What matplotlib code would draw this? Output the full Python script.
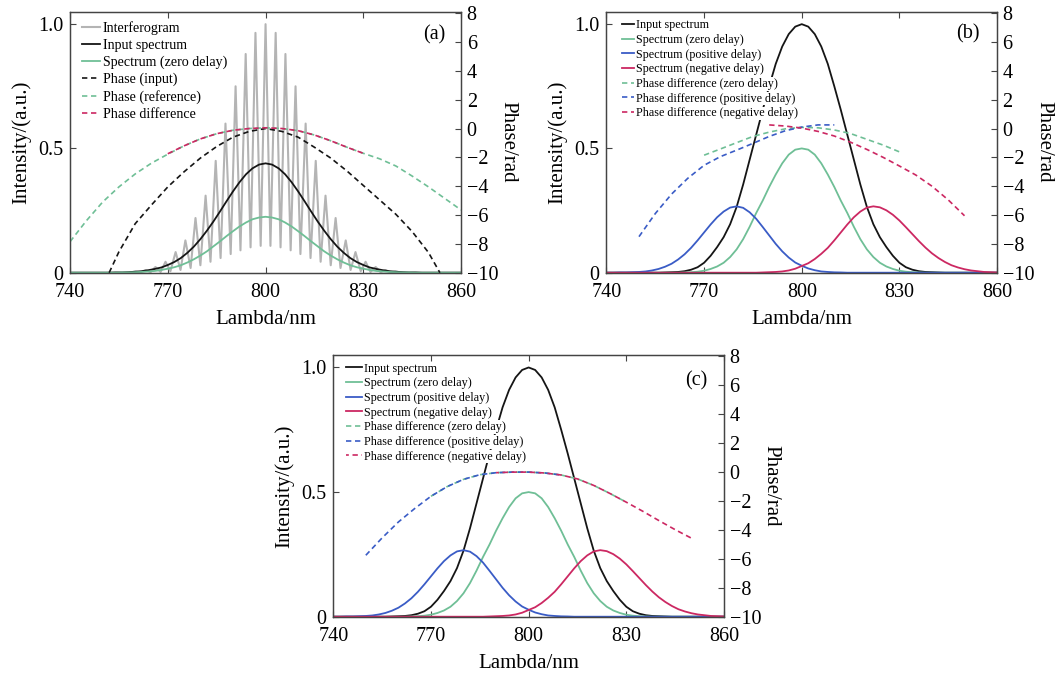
import numpy as np
import matplotlib
matplotlib.use('Agg')
import matplotlib.pyplot as plt

plt.rcParams['font.family'] = ['Liberation Serif', 'DejaVu Serif']

# ---------------- data ----------------
# common wavelength grid (nm) for the spectra
wl = np.arange(740, 861, 2)

# (a) input spectrum and zero-delay spectrum
spec_in_a = [0, 0, 0, 0, 0, 0, 0, 0.001, 0.001, 0.002, 0.004, 0.006, 0.010, 0.015, 0.021,
             0.031, 0.043, 0.059, 0.080, 0.105, 0.135, 0.169, 0.206, 0.246, 0.287, 0.327,
             0.364, 0.396, 0.42, 0.435, 0.44,
             0.435, 0.42, 0.396, 0.364, 0.327, 0.287, 0.246, 0.206, 0.169, 0.135, 0.105,
             0.080, 0.059, 0.043, 0.031, 0.021, 0.015, 0.010, 0.006, 0.004, 0.002, 0.001,
             0.001, 0, 0, 0, 0, 0, 0, 0]
spec_zero_a = [0, 0, 0, 0, 0, 0, 0, 0, 0.001, 0.001, 0.002, 0.003, 0.005, 0.007, 0.011,
               0.016, 0.022, 0.030, 0.041, 0.054, 0.069, 0.086, 0.106, 0.126, 0.147, 0.167,
               0.186, 0.202, 0.215, 0.222, 0.225,
               0.222, 0.215, 0.202, 0.186, 0.167, 0.147, 0.126, 0.106, 0.086, 0.069, 0.054,
               0.041, 0.030, 0.022, 0.016, 0.011, 0.007, 0.005, 0.003, 0.002, 0.001, 0.001,
               0, 0, 0, 0, 0, 0, 0, 0]

# (a) interferogram fringes: maxima and minima
fringe_max_wl = [760.1, 763.2, 766.2, 769.3, 772.4, 775.4, 778.5, 781.6, 784.7, 787.7, 790.8,
                 793.9, 796.9, 800.0, 803.1, 806.1, 809.2, 812.3, 815.4, 818.4, 821.5, 824.6,
                 827.6, 830.7, 833.8, 836.8, 839.9]
fringe_max = [0.005, 0.011, 0.023, 0.044, 0.083, 0.13, 0.22, 0.31, 0.45, 0.60, 0.75, 0.88,
              0.965, 1.0, 0.965, 0.88, 0.75, 0.60, 0.45, 0.31, 0.22, 0.13, 0.083, 0.044,
              0.023, 0.011, 0.005]
fringe_min_wl = [740, 758.0, 761.6, 764.7, 767.8, 770.8, 773.9, 777.0, 780.0, 783.1, 786.2,
                 789.3, 792.3, 795.4, 798.5, 801.5, 804.6, 807.7, 810.7, 813.8, 816.9, 820.0,
                 823.0, 826.1, 829.2, 832.2, 835.3, 838.4, 842.0, 860]
fringe_min = [0, 0, 0.001, 0.002, 0.003, 0.006, 0.011, 0.019, 0.030, 0.044, 0.059, 0.075,
              0.090, 0.102, 0.108, 0.108, 0.102, 0.090, 0.075, 0.059, 0.044, 0.030, 0.019,
              0.011, 0.006, 0.003, 0.002, 0.001, 0, 0]

# (a) phases (rad)
ph_in_wl = [752, 755, 760, 765, 770, 775, 780, 785, 790, 795, 800, 805, 810, 815, 820, 825,
            830, 835, 840, 845, 850, 853.5]
ph_in = [-10, -8.55, -6.6, -5.3, -4.05, -3.0, -2.05, -1.25, -0.6, -0.2, 0.0, -0.2, -0.6,
         -1.3, -2.05, -2.95, -3.95, -4.95, -5.95, -7.15, -8.6, -10]
ph_ref_wl = list(range(740, 861, 5))
ph_ref = [-7.85, -6.4, -5.1, -4.05, -3.15, -2.4, -1.78, -1.2, -0.72, -0.36, -0.12, 0.0, 0.05,
          0.0, -0.15, -0.45, -0.85, -1.3, -1.72, -2.1, -2.6, -3.3, -4.05, -4.85, -5.65]
ph_diff_wl = list(range(770, 831, 5))
ph_diff = [-1.75, -1.2, -0.72, -0.36, -0.12, 0.0, 0.05, 0.0, -0.15, -0.45, -0.85, -1.3, -1.72]

# (b), (c) spectra
spec_in = [0, 0, 0, 0, 0, 0, 0, 0, 0, 0.001, 0.002, 0.003, 0.006, 0.012, 0.022, 0.04, 0.068,
           0.103, 0.143, 0.195, 0.265, 0.355, 0.455, 0.555, 0.655, 0.75, 0.84, 0.91, 0.96,
           0.99, 1.0,
           0.99, 0.96, 0.91, 0.84, 0.75, 0.655, 0.555, 0.455, 0.355, 0.265, 0.195, 0.143,
           0.103, 0.068, 0.04, 0.022, 0.012, 0.006, 0.003, 0.002, 0.001, 0, 0, 0, 0, 0, 0,
           0, 0, 0]
spec_zero = [0, 0, 0, 0, 0, 0, 0, 0, 0, 0, 0, 0, 0.001, 0.002, 0.004, 0.008, 0.015, 0.025,
             0.04, 0.063, 0.094, 0.135, 0.185, 0.24, 0.29, 0.345, 0.395, 0.44, 0.475, 0.495,
             0.5,
             0.495, 0.475, 0.44, 0.395, 0.345, 0.29, 0.24, 0.185, 0.135, 0.094, 0.063, 0.04,
             0.025, 0.015, 0.008, 0.004, 0.002, 0.001, 0, 0, 0, 0, 0, 0, 0, 0, 0, 0, 0, 0]
spec_pos = [0, 0, 0.001, 0.001, 0.002, 0.003, 0.005, 0.009, 0.015, 0.024, 0.036, 0.053,
            0.074, 0.100, 0.130, 0.162, 0.194, 0.223, 0.246, 0.262, 0.267, 0.261, 0.243,
            0.217, 0.184, 0.150, 0.116, 0.086, 0.061, 0.041, 0.028, 0.017, 0.010, 0.005,
            0.003, 0.0015, 0.001, 0, 0, 0, 0, 0, 0, 0, 0, 0, 0, 0, 0, 0, 0, 0, 0, 0, 0, 0,
            0, 0, 0, 0, 0]
spec_neg = [0, 0, 0, 0, 0, 0, 0, 0, 0, 0, 0, 0, 0, 0, 0, 0, 0, 0, 0, 0, 0, 0, 0, 0,
            0.001, 0.002, 0.003, 0.005, 0.009, 0.016, 0.027, 0.038, 0.055, 0.076, 0.100,
            0.130, 0.162, 0.194, 0.223, 0.246, 0.262, 0.267, 0.263, 0.251, 0.233, 0.210,
            0.183, 0.155, 0.127, 0.101, 0.078, 0.059, 0.043, 0.030, 0.021, 0.014, 0.009,
            0.006, 0.003, 0.002, 0.001]

# (b) phase differences (uncorrected)
ph_pos_b_wl = list(range(750, 811, 5))
ph_pos_b = [-7.5, -5.9, -4.55, -3.45, -2.55, -1.95, -1.5, -1.03, -0.55, -0.15, 0.1, 0.25, 0.25]
ph_zero_b_wl = list(range(770, 831, 5))
ph_zero_b = [-1.85, -1.42, -0.98, -0.55, -0.25, -0.02, 0.08, 0.05, -0.1, -0.35, -0.75, -1.15, -1.62]
ph_neg_b_wl = list(range(790, 851, 5))
ph_neg_b = [0.25, 0.17, 0.03, -0.2, -0.52, -0.95, -1.45, -2.0, -2.6, -3.22, -4.0, -4.95, -6.05]

# (c) phase differences (corrected, on one curve)
ph_c_wl = np.arange(750, 851, 5)
ph_c = np.array([-5.75, -4.55, -3.45, -2.52, -1.67, -1.0, -0.5, -0.18, -0.04, 0.0, 0.0, -0.06,
                 -0.2, -0.47, -0.92, -1.48, -2.08, -2.7, -3.35, -3.98, -4.57])

c_black = '#151515'
c_gray = '#b4b4b4'
c_green = '#6fbf96'
c_blue = '#3a5cc6'
c_red = '#cc2862'
dash = (3.2, 2.2)


def setup(ax, ax2, tag, tag_xy):
    ax.set_xlim(740, 860)
    ax.set_ylim(0, 1.05)
    ax2.set_ylim(-10, 8.1)
    ax.set_xticks([740, 770, 800, 830, 860])
    ax.set_yticks([0, 0.5, 1.0])
    ax.set_yticklabels(['0', '0.5', '1.0'])
    ax2.set_yticks(range(-10, 9, 2))
    ax.tick_params(axis='x', direction='in', top=True, length=4, labelsize=14.5, pad=7.5,
                   color='#444444')
    ax.tick_params(axis='y', direction='in', length=4, labelsize=14.5, pad=5, color='#444444')
    ax2.tick_params(axis='y', direction='in', length=4, labelsize=14.5, pad=4, color='#444444')
    for a in (ax, ax2):
        for s in a.spines.values():
            s.set_color('#444444')
            s.set_linewidth(0.9)
    ax.set_xlabel('Lambda/nm', fontsize=15, labelpad=6)
    ax.set_ylabel('Intensity/(a.u.)', fontsize=15, labelpad=5)
    ax2.set_ylabel('Phase/rad', fontsize=15, rotation=270, va='bottom', labelpad=0)
    ax.text(tag_xy[0], tag_xy[1], tag, transform=ax.transAxes, ha='right', va='center',
            fontsize=14.5)


def add_legend(ax, ax2, anchor, fs, hl, spacing, hide_lines):
    h1, l1 = ax.get_legend_handles_labels()
    h2, l2 = ax2.get_legend_handles_labels()
    leg = ax2.legend(h1 + h2, l1 + l2, loc='upper left', bbox_to_anchor=anchor,
                     borderaxespad=0, borderpad=0, frameon=False, fontsize=fs,
                     handlelength=hl, handletextpad=0.2, labelspacing=spacing)
    if hide_lines:
        for t in leg.get_texts():
            t.set_bbox(dict(facecolor='white', edgecolor='none', pad=0.5))


fig = plt.figure(figsize=(10.58, 6.74), dpi=100)

# ---- (a) ----
ax = fig.add_axes([0.0662, 0.5954, 0.3696, 0.3872])
ax2 = ax.twinx()
fr_wl = np.array(fringe_max_wl + fringe_min_wl)
fr_val = np.array(fringe_max + fringe_min)
order = np.argsort(fr_wl)
ax.plot(fr_wl[order], fr_val[order], color=c_gray, lw=1.5, label='Interferogram')
ax.plot(wl, spec_in_a, color=c_black, lw=1.3, label='Input spectrum')
ax.plot(wl, spec_zero_a, color=c_green, lw=1.3, label='Spectrum (zero delay)')
ax2.plot(ph_in_wl, ph_in, color=c_black, lw=1.2, ls=(0, dash), label='Phase (input)')
ax2.plot(ph_ref_wl, ph_ref, color=c_green, lw=1.2, ls=(0, dash), label='Phase (reference)')
ax2.plot(ph_diff_wl, ph_diff, color=c_red, lw=1.2, ls=(0, dash), label='Phase difference')
setup(ax, ax2, '(a)', (0.96, 0.91))
add_legend(ax, ax2, (0.03, 0.963), 10.1, 1.3, 0.27, False)

# ---- (b) ----
ax = fig.add_axes([0.5732, 0.5954, 0.3692, 0.3872])
ax2 = ax.twinx()
ax.plot(wl, spec_in, color=c_black, lw=1.3, label='Input spectrum')
ax.plot(wl, spec_zero, color=c_green, lw=1.3, label='Spectrum (zero delay)')
ax.plot(wl, spec_pos, color=c_blue, lw=1.3, label='Spectrum (positive delay)')
ax.plot(wl, spec_neg, color=c_red, lw=1.3, label='Spectrum (negative delay)')
ax2.plot(ph_zero_b_wl, ph_zero_b, color=c_green, lw=1.2, ls=(0, dash),
         label='Phase difference (zero delay)')
ax2.plot(ph_pos_b_wl, ph_pos_b, color=c_blue, lw=1.2, ls=(0, dash),
         label='Phase difference (positive delay)')
ax2.plot(ph_neg_b_wl, ph_neg_b, color=c_red, lw=1.2, ls=(0, dash),
         label='Phase difference (negative delay)')
setup(ax, ax2, '(b)', (0.955, 0.917))
add_legend(ax, ax2, (0.041, 0.971), 8.7, 0.95, 0.22, True)

# ---- (c) ----
ax = fig.add_axes([0.3150, 0.0850, 0.3693, 0.3883])
ax2 = ax.twinx()
ax.plot(wl, spec_in, color=c_black, lw=1.3, label='Input spectrum')
ax.plot(wl, spec_zero, color=c_green, lw=1.3, label='Spectrum (zero delay)')
ax.plot(wl, spec_pos, color=c_blue, lw=1.3, label='Spectrum (positive delay)')
ax.plot(wl, spec_neg, color=c_red, lw=1.3, label='Spectrum (negative delay)')
m_zero = (ph_c_wl >= 770) & (ph_c_wl <= 830)
m_pos = ph_c_wl <= 810
m_neg = ph_c_wl >= 790
ax2.plot(ph_c_wl[m_zero], ph_c[m_zero], color=c_green, lw=1.2, ls=(0, dash),
         label='Phase difference (zero delay)')
ax2.plot(ph_c_wl[m_pos], ph_c[m_pos], color=c_blue, lw=1.2, ls=(0, dash),
         label='Phase difference (positive delay)')
ax2.plot(ph_c_wl[m_neg], ph_c[m_neg], color=c_red, lw=1.2, ls=(1.5, dash),
         label='Phase difference (negative delay)')
setup(ax, ax2, '(c)', (0.957, 0.902))
add_legend(ax, ax2, (0.0325, 0.971), 8.7, 1.3, 0.22, True)

fig.savefig('out.png', dpi=100)
